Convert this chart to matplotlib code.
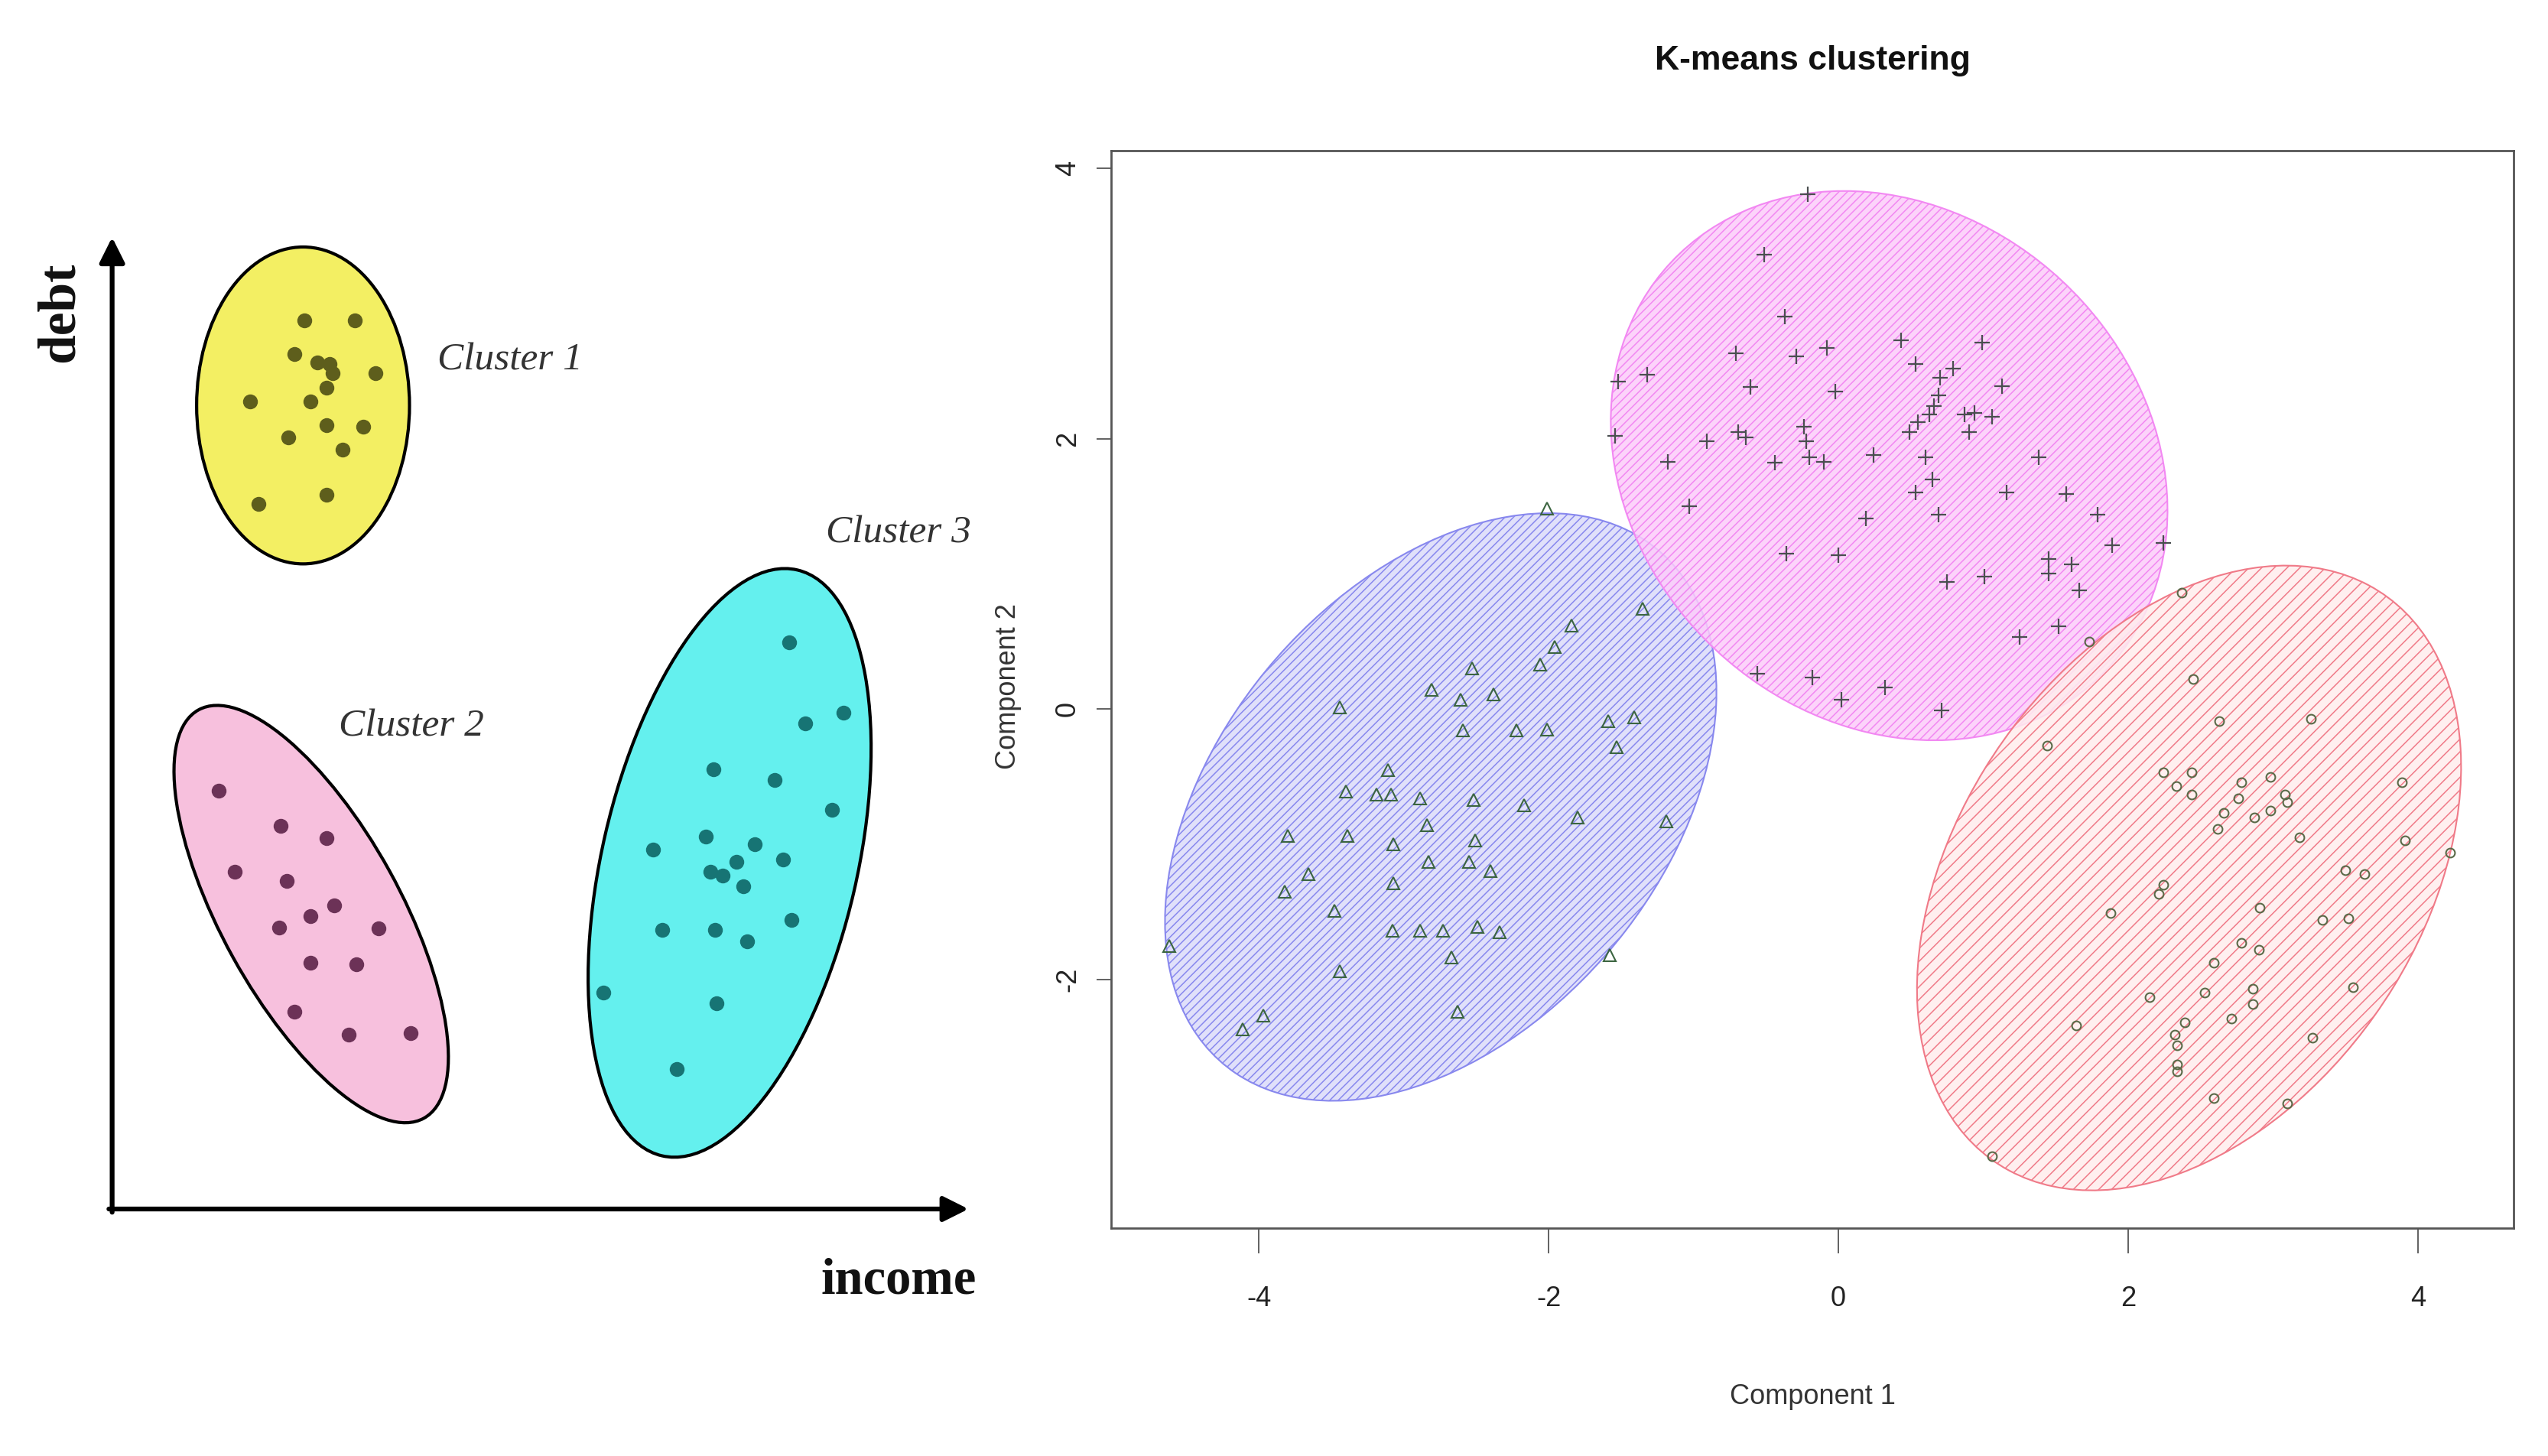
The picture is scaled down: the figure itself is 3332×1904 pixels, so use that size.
import numpy as np
import matplotlib
matplotlib.use('Agg')
import matplotlib.pyplot as plt
from matplotlib.patches import Ellipse

plt.rcParams['axes.unicode_minus'] = False
plt.rcParams['hatch.linewidth'] = 1.1

W, H = 3332, 1904

# ---- left sketch: points in sketch units (y grows downward) ----
c1_x = [187.3, 218.5, 181.4, 195.1, 202.9, 204.8, 231.0, 154.1, 191.2, 200.9,
        200.9, 223.6, 177.5, 210.7, 159.2, 200.9]
c1_y = [197.1, 197.1, 218.0, 223.2, 224.1, 229.8, 229.8, 247.2, 247.2, 238.5,
        261.5, 262.4, 269.0, 276.8, 310.3, 304.6]
c2_x = [134.6, 172.8, 200.9, 144.4, 176.7, 205.6, 191.2, 171.7, 232.9, 191.2,
        219.3, 181.4, 214.6, 252.8]
c2_y = [486.6, 508.4, 515.8, 536.7, 541.9, 557.1, 563.7, 570.6, 571.5, 592.4,
        593.3, 622.4, 636.8, 635.9]
c3_x = [485.8, 495.5, 518.9, 438.9, 476.8, 511.9, 401.9, 434.3, 464.3, 481.9,
        437.0, 444.8, 453.4, 457.3, 407.7, 440.1, 459.6, 486.9, 371.4, 440.9, 416.7]
c3_y = [395.2, 445.3, 438.7, 473.5, 480.1, 498.4, 522.7, 514.9, 519.3, 528.8,
        536.7, 538.9, 530.2, 545.4, 572.4, 572.4, 579.3, 566.3, 610.7, 617.2, 657.7]

sketch_labels = ['Cluster 1', 'Cluster 2', 'Cluster 3']
sketch_cx = [186.5, 191.5, 449.0]
sketch_cy = [249.5, 562.5, 531.0]
sketch_w = [131, 287, 370]
sketch_h = [195, 110, 157]
sketch_ang = [0, 61.1, -77]

# ---- right panel: k-means clusplot ----
tri_x = [-2.01, -1.35, -1.84, -1.96, -2.06, -2.53, -2.81, -2.61, -2.38, -3.44,
         -2.59, -2.22, -2.01, -1.59, -1.41, -1.53, -3.11, -3.09, -3.19, -3.40,
         -2.89, -2.52, -2.17, -1.80, -1.19, -2.84, -3.80, -3.39, -2.51, -3.07,
         -2.83, -2.55, -2.40, -3.66, -3.07, -3.82, -3.48, -3.08, -2.89, -2.73,
         -2.49, -2.34, -4.62, -2.67, -1.58, -3.44, -2.63, -3.97, -4.11]
tri_y = [1.48, 0.74, 0.62, 0.46, 0.33, 0.30, 0.14, 0.07, 0.11, 0.01,
         -0.16, -0.16, -0.15, -0.09, -0.06, -0.28, -0.45, -0.63, -0.63, -0.61,
         -0.66, -0.67, -0.71, -0.80, -0.83, -0.86, -0.94, -0.94, -0.97, -1.00,
         -1.13, -1.13, -1.20, -1.22, -1.29, -1.35, -1.49, -1.64, -1.64, -1.64,
         -1.61, -1.65, -1.75, -1.84, -1.82, -1.94, -2.24, -2.27, -2.37]

plus_x = [-0.21, -0.51, -0.37, -0.71, -0.29, -0.08, 0.43, 0.99, -1.52, -1.32,
          -0.61, -0.02, 0.53, 0.79, 0.70, 1.13, 0.69, 0.66, 0.63, 0.55,
          0.49, 0.87, 0.94, 1.06, 0.90, -1.54, -0.91, -0.69, -0.64, -0.24,
          -0.22, -1.18, -0.44, -0.20, -0.10, 0.24, 0.60, 0.65, 0.53, 1.16,
          1.38, 1.57, -1.03, 0.19, 0.69, 1.79, 1.89, 2.24, -0.36, 0.00,
          1.45, 1.61, 1.66, 0.75, 1.01, 1.45, 1.52, 1.25, -0.56, -0.18,
          0.02, 0.32, 0.71]
plus_y = [3.81, 3.36, 2.90, 2.63, 2.61, 2.67, 2.73, 2.71, 2.42, 2.47,
          2.38, 2.35, 2.55, 2.52, 2.45, 2.39, 2.32, 2.24, 2.18, 2.12,
          2.05, 2.18, 2.19, 2.16, 2.05, 2.02, 1.98, 2.05, 2.01, 2.09,
          1.98, 1.83, 1.82, 1.86, 1.83, 1.88, 1.86, 1.70, 1.60, 1.60,
          1.86, 1.59, 1.50, 1.41, 1.44, 1.44, 1.21, 1.23, 1.15, 1.14,
          1.11, 1.07, 0.88, 0.94, 0.98, 1.00, 0.61, 0.53, 0.26, 0.23,
          0.07, 0.16, -0.01]

circ_x = [2.37, 1.44, 2.45, 2.63, 3.26, 2.24, 2.33, 2.44, 2.44, 2.78,
          2.98, 2.76, 3.08, 3.10, 2.98, 2.87, 2.66, 2.62, 3.18, 3.89,
          3.91, 4.22, 3.50, 3.63, 2.24, 2.21, 1.88, 2.91, 3.34, 3.52,
          2.78, 2.90, 2.59, 2.15, 2.53, 2.86, 2.86, 2.71, 3.55, 1.64,
          2.39, 2.32, 2.34, 3.27, 2.34, 2.34, 2.59, 3.10, 1.06, 1.73]
circ_y = [0.86, -0.27, 0.22, -0.09, -0.07, -0.47, -0.57, -0.47, -0.63, -0.54,
          -0.50, -0.66, -0.63, -0.69, -0.75, -0.80, -0.77, -0.89, -0.95, -0.54,
          -0.97, -1.06, -1.19, -1.22, -1.30, -1.37, -1.51, -1.47, -1.56, -1.55,
          -1.73, -1.78, -1.88, -2.13, -2.10, -2.07, -2.18, -2.29, -2.06, -2.34,
          -2.32, -2.41, -2.49, -2.43, -2.63, -2.68, -2.88, -2.92, -3.31, 0.50]

ell_cx = [-2.745, 0.35, 2.42]
ell_cy = [-0.725, 1.80, -1.25]
ell_w = [4.85, 4.28, 4.99]
ell_h = [3.14, 3.60, 3.25]
ell_ang = [54.4, -54.5, 60.2]

fig = plt.figure(figsize=(W / 100, H / 100), dpi=100)

# ================= left sketch =================
ax1 = fig.add_axes([0, 0, 620 / 1568, 1])
ax1.set_xlim(0, 620)
ax1.set_ylim(896, 0)
ax1.axis('off')

fills = ['#f3ef63', '#f7c0dd', '#64f0ee']
dots = ['#5e5e1c', '#6c3257', '#177474']
for i in range(3):
    ax1.add_patch(Ellipse((sketch_cx[i], sketch_cy[i]), sketch_w[i], sketch_h[i],
                          angle=sketch_ang[i], facecolor=fills[i],
                          edgecolor='black', lw=3, zorder=1))
for xs, ys, col in zip([c1_x, c2_x, c3_x], [c1_y, c2_y, c3_y], dots):
    ax1.plot(xs, ys, ls='none', marker='o', ms=14, mfc=col, mec='none', zorder=3)

arrow = dict(arrowstyle='-|>', color='black', lw=4.5, mutation_scale=50,
             shrinkA=0, shrinkB=0)
ax1.annotate('', xy=(69, 146), xytext=(69, 746), arrowprops=arrow)
ax1.annotate('', xy=(596, 744), xytext=(67, 744), arrowprops=arrow)

label_pos = [(314, 222), (253, 447), (553, 328)]
for lab, (lx, ly) in zip(sketch_labels, label_pos):
    ax1.text(lx, ly, lab, fontsize=37, style='italic', family='Liberation Serif',
             color='#333333', ha='center', va='center')
ax1.text(553, 788, 'income', fontsize=48, weight='bold',
         family='Liberation Serif', color='#111111', ha='center', va='center')
ax1.text(37, 192, 'debt', fontsize=50, weight='bold', rotation=90,
         family='Liberation Serif', color='#111111', ha='center', va='center')

# ================= right clusplot =================
ax2 = fig.add_axes([1453 / W, 1 - 1606 / H, (3287 - 1453) / W, (1606 - 197) / H])
ax2.set_xlim(-5.02, 4.66)
ax2.set_ylim(-3.84, 4.13)

faces = [(0.86, 0.86, 0.98, 0.85), (0.99, 0.80, 0.98, 0.85), (1.0, 0.93, 0.93, 0.85)]
edges = ['#8888ee', '#f288f2', '#f07a88']
hatches = ['///', '///', '//']
for i in range(3):
    ax2.add_patch(Ellipse((ell_cx[i], ell_cy[i]), ell_w[i], ell_h[i], angle=ell_ang[i],
                          facecolor=faces[i], edgecolor=edges[i], hatch=hatches[i],
                          lw=1.5, zorder=1))

pt_col = '#3b6540'
ax2.plot(tri_x, tri_y, ls='none', marker='^', ms=11, mfc='none', mec=pt_col, mew=1.5, zorder=3)
ax2.plot(plus_x, plus_y, ls='none', marker='+', ms=15, mec='#4a4f50', mew=1.6, zorder=3)
ax2.plot(circ_x, circ_y, ls='none', marker='o', ms=8.5, mfc='none', mec='#5a6a48', mew=1.5, zorder=3)

ax2.set_xticks([-4, -2, 0, 2, 4])
ax2.set_yticks([-2, 0, 2, 4])
ax2.tick_params(axis='x', length=24, width=1.3, pad=30, labelsize=26,
                color='#555555', labelcolor='#222222')
ax2.tick_params(axis='y', length=14, width=1.3, pad=14, labelsize=26,
                labelrotation=90, color='#555555', labelcolor='#222222')
for lab in ax2.get_yticklabels():
    lab.set_va('center')
for sp in ax2.spines.values():
    sp.set_color('#555555')
    sp.set_linewidth(2)

fig.text(2370 / W, 1 - 79 / H, 'K-means clustering', fontsize=32, weight='bold',
         family='Liberation Sans', ha='center', va='center', color='#111111')
fig.text(2370 / W, 1 - 1826 / H, 'Component 1', fontsize=26,
         family='Liberation Sans', ha='center', va='center', color='#333333')
fig.text(1318 / W, 1 - 898 / H, 'Component 2', fontsize=26, rotation=90,
         family='Liberation Sans', ha='center', va='center', color='#333333')
for lab in ax2.get_xticklabels() + ax2.get_yticklabels():
    lab.set_family('Liberation Sans')

fig.savefig('out.png', dpi=100)
